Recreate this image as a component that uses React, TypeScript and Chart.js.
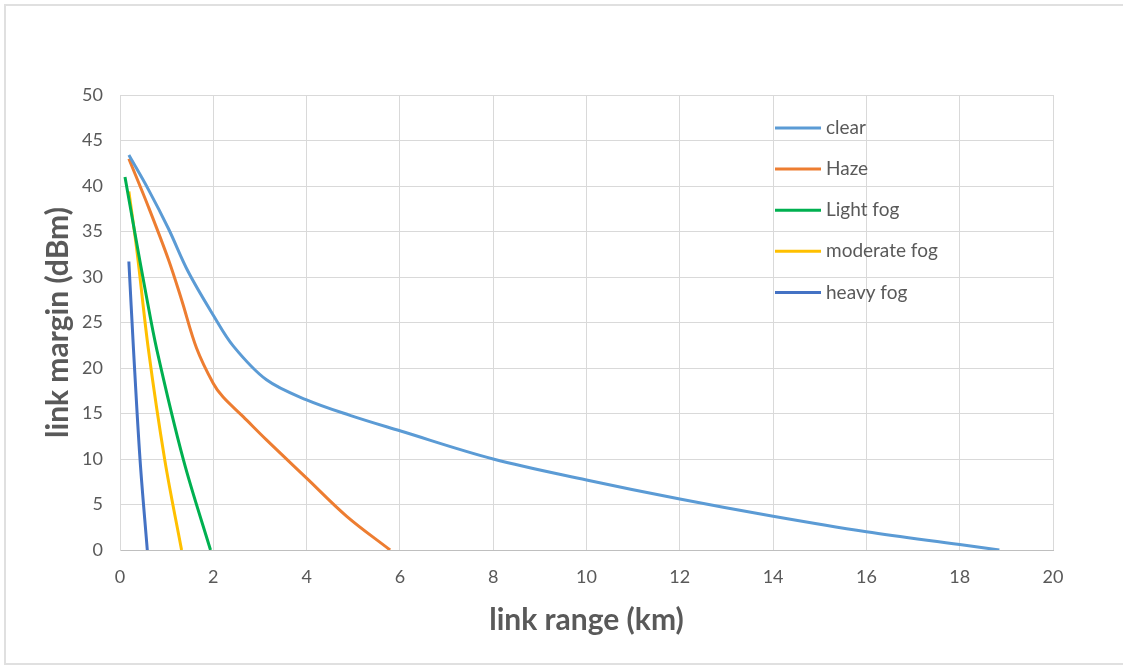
import React, { useEffect, useRef } from "react";
import { Chart, registerables } from "chart.js";

Chart.register(...registerables);

const seriesNames = ["clear", "Haze", "Light fog", "moderate fog", "heavy fog"];
const seriesColors = ["#5B9BD5", "#ED7D31", "#00B050", "#FFC000", "#4472C4"];

const clearX = [0.19, 0.61, 1.04, 1.46, 2.0, 2.43, 3.14, 4.0, 4.93, 6.0, 8.0, 10.0, 12.0, 14.0, 16.0, 18.0, 18.85];
const clearY = [43.4, 39.6, 35.3, 30.6, 25.8, 22.4, 18.7, 16.5, 14.8, 13.1, 10.0, 7.7, 5.6, 3.7, 2.0, 0.6, 0];

const hazeX = [0.19, 0.61, 1.04, 1.32, 1.64, 2.0, 2.21, 2.64, 3.14, 4.0, 4.86, 5.79];
const hazeY = [43.0, 37.7, 31.9, 27.5, 22.2, 18.3, 16.8, 14.65, 12.1, 7.9, 3.7, 0];

const lightFogX = [0.107, 0.32, 0.54, 0.79, 1.36, 1.94];
const lightFogY = [41.0, 34.8, 28.6, 22.0, 9.9, 0];

const moderateFogX = [0.19, 0.36, 0.61, 0.96, 1.32];
const moderateFogY = [39.4, 33.0, 22.0, 9.9, 0];

const heavyFogX = [0.19, 0.29, 0.43, 0.585];
const heavyFogY = [31.7, 22.0, 9.9, 0];

const xTitle = "link range (km)";
const yTitle = "link margin (dBm)";

const allX = [clearX, hazeX, lightFogX, moderateFogX, heavyFogX];
const allY = [clearY, hazeY, lightFogY, moderateFogY, heavyFogY];

const FONT = "Lato, 'Open Sans', sans-serif";
const TEXT = "#595959";

const legendPlugin = {
  id: "insideLegend",
  afterDraw(chart: any) {
    const ctx = chart.ctx;
    const x0 = 775;
    const x1 = 821;
    const y0 = 128;
    const step = 41.1;
    ctx.save();
    chart.data.datasets.forEach((ds: any, i: number) => {
      const y = y0 + i * step;
      ctx.strokeStyle = ds.borderColor;
      ctx.lineWidth = 3;
      ctx.lineCap = "butt";
      ctx.beginPath();
      ctx.moveTo(x0, y);
      ctx.lineTo(x1, y);
      ctx.stroke();
      ctx.fillStyle = TEXT;
      ctx.font = `19px ${FONT}`;
      ctx.textBaseline = "middle";
      ctx.textAlign = "left";
      ctx.fillText(ds.label, x1 + 5, y);
    });
    ctx.restore();
  },
};

export default function App() {
  const ref = useRef<HTMLCanvasElement | null>(null);

  useEffect(() => {
    if (!ref.current) return;
    const datasets = seriesNames.map((name, i) => ({
      label: name,
      data: allX[i].map((x, j) => ({ x, y: allY[i][j] })),
      borderColor: seriesColors[i],
      backgroundColor: seriesColors[i],
      borderWidth: 3,
      pointRadius: 0,
      fill: false,
      tension: 0.35,
    }));
    const chart = new Chart(ref.current, {
      type: "line",
      data: { datasets },
      plugins: [legendPlugin],
      options: {
        animation: false,
        responsive: false,
        maintainAspectRatio: false,
        layout: { padding: { top: 95, right: 70, left: 0, bottom: 0 } },
        plugins: {
          legend: { display: false },
          tooltip: { enabled: false },
        },
        scales: {
          x: {
            type: "linear",
            min: 0,
            max: 20,
            afterFit: (s: any) => {
              s.height = 118;
            },
            ticks: {
              stepSize: 2,
              color: TEXT,
              font: { family: FONT, size: 18 },
              padding: 16,
            },
            grid: { color: "#d9d9d9", drawTicks: false, lineWidth: 1 },
            border: { color: "#bfbfbf", width: 1 },
            title: {
              display: true,
              text: xTitle,
              color: TEXT,
              font: { family: FONT, size: 30, weight: "bold" },
              padding: { top: 0, bottom: 30 },
            },
          },
          y: {
            type: "linear",
            min: 0,
            max: 50,
            afterFit: (s: any) => {
              s.width = 120;
            },
            ticks: {
              stepSize: 5,
              color: TEXT,
              font: { family: FONT, size: 18 },
              padding: 17,
            },
            grid: { color: "#d9d9d9", drawTicks: false, lineWidth: 1 },
            border: { color: "#d9d9d9", width: 1 },
            title: {
              display: true,
              text: yTitle,
              color: TEXT,
              font: { family: FONT, size: 30, weight: "bold" },
              padding: { top: 40, bottom: 0 },
            },
          },
        },
      },
    });
    return () => chart.destroy();
  }, []);

  return (
    <div style={{ position: "fixed", left: 0, top: 0, width: 1123, height: 668, background: "#fff", overflow: "hidden" }}>
      <div
        style={{
          position: "absolute",
          left: 4,
          top: 4,
          width: 1130,
          height: 661,
          boxSizing: "border-box",
          border: "2px solid #e0e0e0",
        }}
      />
      <canvas ref={ref} width={1123} height={668} style={{ position: "absolute", left: 0, top: 0, width: 1123, height: 668 }} />
    </div>
  );
}
